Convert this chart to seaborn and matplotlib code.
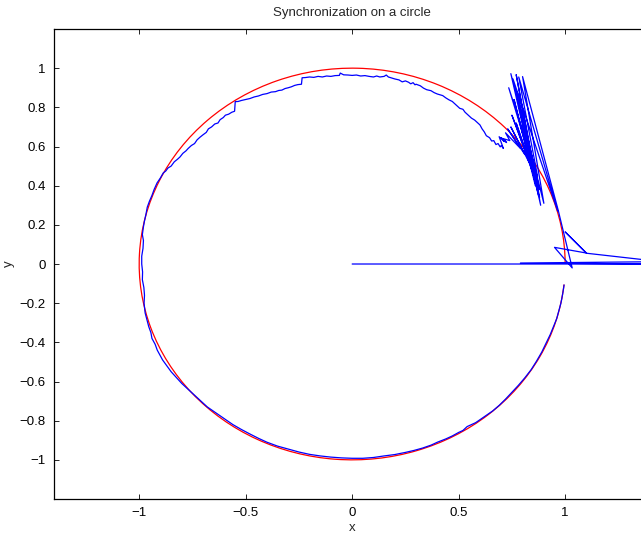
import matplotlib
matplotlib.use("Agg")
import matplotlib.pyplot as plt
from matplotlib.patches import Arc
import seaborn as sns
import pandas as pd

# Reference circle (red): centre, radius, drawn arc in degrees
circle_center = (0.0, 0.0)
circle_radius = 1.0
circle_start_deg = 0.0
circle_end_deg = 354.0

# Blue trajectory: start transient near (1, 0)
transient_x = [0.0, 1.45, 0.79, 1.45, 1.10, 1.00, 1.10, 0.95, 1.033, 0.967,
               0.800, 0.90, 0.745, 0.885, 0.770, 0.88, 0.755, 0.965, 0.782, 0.87,
               0.735, 0.88, 0.775, 0.86, 0.760, 0.875, 0.785, 0.85, 0.750, 0.84,
               0.770, 0.83, 0.745, 0.81, 0.730, 0.79, 0.720, 0.74, 0.710, 0.725,
               0.700, 0.715, 0.690]
transient_y = [0.0, 0.0, 0.005, 0.012, 0.055, 0.164, 0.056, 0.085, -0.02, 0.276,
               0.957, 0.31, 0.972, 0.30, 0.967, 0.34, 0.945, 0.27, 0.955, 0.45,
               0.900, 0.38, 0.880, 0.40, 0.840, 0.35, 0.800, 0.46, 0.760, 0.50,
               0.720, 0.52, 0.700, 0.56, 0.690, 0.59, 0.670, 0.63, 0.640, 0.620,
               0.645, 0.625, 0.650]

# Blue trajectory, then running round the circle counter-clockwise
orbit_x = [0.71, 0.70, 0.695, 0.685, 0.675, 0.665, 0.655, 0.645, 0.63, 0.62,
           0.61, 0.60, 0.59, 0.575, 0.56, 0.545, 0.53, 0.52, 0.505, 0.49,
           0.47, 0.455, 0.44, 0.425, 0.413, 0.40, 0.385, 0.37, 0.35, 0.335,
           0.32, 0.30, 0.295, 0.286, 0.275, 0.265, 0.25, 0.235, 0.22, 0.20,
           0.185, 0.17, 0.16, 0.15, 0.13, 0.115, 0.10, 0.08, 0.06, 0.04,
           0.02, 0.0, -0.02, -0.04, -0.056, -0.06, -0.08, -0.10, -0.12, -0.14,
           -0.16, -0.18, -0.20, -0.22, -0.235, -0.238, -0.255, -0.27, -0.285, -0.30,
           -0.315, -0.33, -0.345, -0.36, -0.38, -0.40, -0.42, -0.44, -0.46, -0.48,
           -0.50, -0.52, -0.535, -0.549, -0.552, -0.565, -0.58, -0.595, -0.605, -0.62,
           -0.63, -0.645, -0.66, -0.675, -0.685, -0.70, -0.715, -0.728, -0.74, -0.755,
           -0.77, -0.78, -0.795, -0.808, -0.82, -0.835, -0.85, -0.865, -0.875, -0.887,
           -0.90, -0.916, -0.93, -0.94, -0.952, -0.962, -0.968, -0.975, -0.98, -0.985,
           -0.98, -0.982, -0.988, -0.988, -0.984, -0.985, -0.978, -0.975, -0.977, -0.972,
           -0.962, -0.955, -0.945, -0.94, -0.925, -0.915, -0.905, -0.89, -0.87, -0.85,
           -0.825, -0.80, -0.77, -0.74, -0.71, -0.68, -0.64, -0.60, -0.56, -0.52,
           -0.48, -0.44, -0.40, -0.35, -0.30, -0.25, -0.20, -0.15, -0.10, -0.05,
           0.0, 0.05, 0.10, 0.15, 0.20, 0.25, 0.29, 0.33, 0.37, 0.40,
           0.44, 0.47, 0.50, 0.52, 0.54, 0.56, 0.58, 0.60, 0.63, 0.66,
           0.69, 0.72, 0.75, 0.78, 0.81, 0.84, 0.865, 0.89, 0.91, 0.93,
           0.945, 0.96, 0.97, 0.98, 0.988, 0.995]
orbit_y = [0.59, 0.605, 0.598, 0.615, 0.61, 0.63, 0.628, 0.645, 0.655, 0.675,
           0.69, 0.71, 0.72, 0.735, 0.745, 0.76, 0.775, 0.79, 0.795, 0.81,
           0.83, 0.838, 0.848, 0.86, 0.864, 0.868, 0.875, 0.885, 0.89, 0.898,
           0.91, 0.918, 0.915, 0.926, 0.92, 0.928, 0.935, 0.93, 0.94, 0.945,
           0.95, 0.955, 0.965, 0.958, 0.955, 0.96, 0.955, 0.958, 0.962, 0.96,
           0.965, 0.963, 0.965, 0.966, 0.975, 0.963, 0.962, 0.958, 0.96, 0.955,
           0.958, 0.953, 0.955, 0.952, 0.951, 0.918, 0.916, 0.912, 0.905, 0.90,
           0.896, 0.888, 0.886, 0.88, 0.878, 0.87, 0.866, 0.858, 0.853, 0.845,
           0.84, 0.835, 0.83, 0.829, 0.78, 0.775, 0.765, 0.76, 0.748, 0.737,
           0.72, 0.715, 0.70, 0.69, 0.672, 0.66, 0.647, 0.634, 0.615, 0.605,
           0.59, 0.578, 0.565, 0.547, 0.535, 0.522, 0.50, 0.49, 0.475, 0.465,
           0.44, 0.414, 0.38, 0.35, 0.32, 0.29, 0.255, 0.22, 0.19, 0.15,
           0.12, 0.08, 0.04, 0.0, -0.04, -0.08, -0.12, -0.16, -0.20, -0.25,
           -0.29, -0.32, -0.35, -0.38, -0.41, -0.44, -0.46, -0.49, -0.52, -0.55,
           -0.58, -0.61, -0.64, -0.67, -0.70, -0.73, -0.76, -0.79, -0.82, -0.845,
           -0.868, -0.89, -0.91, -0.93, -0.945, -0.96, -0.972, -0.98, -0.986, -0.99,
           -0.992, -0.992, -0.988, -0.98, -0.973, -0.962, -0.952, -0.94, -0.925, -0.91,
           -0.893, -0.878, -0.86, -0.85, -0.83, -0.82, -0.81, -0.795, -0.772, -0.75,
           -0.722, -0.69, -0.655, -0.62, -0.582, -0.54, -0.497, -0.45, -0.405, -0.36,
           -0.32, -0.28, -0.24, -0.20, -0.155, -0.107]

x_ticks = [-1, -0.5, 0, 0.5, 1]
x_tick_labels = ["\u22121", "\u22120.5", "0", "0.5", "1"]
y_ticks = [-1, -0.8, -0.6, -0.4, -0.2, 0, 0.2, 0.4, 0.6, 0.8, 1]
y_tick_labels = ["\u22121", "\u22120.8", "\u22120.6", "\u22120.4", "\u22120.2", "0",
                 "0.2", "0.4", "0.6", "0.8", "1"]

sns.set_style("ticks")
plt.rcParams["font.family"] = ["Liberation Sans", "DejaVu Sans"]
plt.rcParams["font.size"] = 9.5

df = pd.DataFrame({"x": transient_x + orbit_x, "y": transient_y + orbit_y})

fig = plt.figure(figsize=(6.41, 5.36), dpi=100)
# axes run a little past the right edge of the picture, as in the reference
ax = fig.add_axes([0.0842, 0.069, 0.9304, 0.8769])

ax.add_patch(Arc(circle_center, 2 * circle_radius, 2 * circle_radius,
                 theta1=circle_start_deg, theta2=circle_end_deg,
                 color="red", lw=0.9))
sns.lineplot(data=df, x="x", y="y", sort=False, estimator=None,
             color="blue", lw=0.9, ax=ax)

ax.set_xlim(-1.4, 1.4)
ax.set_ylim(-1.2, 1.2)
ax.set_xticks(x_ticks)
ax.set_xticklabels(x_tick_labels)
ax.set_yticks(y_ticks)
ax.set_yticklabels(y_tick_labels)
ax.tick_params(direction="in", length=3.6, width=0.6, top=True, right=True,
               labelsize=9.5, colors="black", pad=6)
for side in ["left", "bottom", "top", "right"]:
    ax.spines[side].set_visible(True)
    ax.spines[side].set_color("black")
    ax.spines[side].set_linewidth(0.9)

ax.set_title("Synchronization on a circle", fontsize=9.5, pad=9)
ax.set_xlabel("x", fontsize=9.5, labelpad=2)
ax.set_ylabel("y", fontsize=9.5, labelpad=3)

fig.savefig("out.png", dpi=100)
plt.close(fig)
